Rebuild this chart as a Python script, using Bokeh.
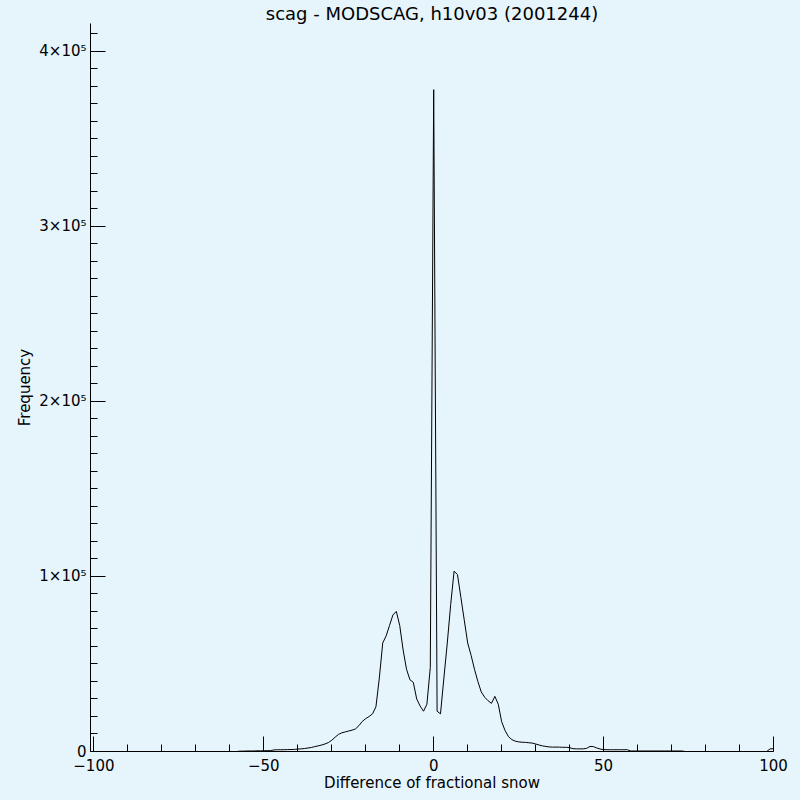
from bokeh.plotting import figure
from bokeh.models import Range1d, FixedTicker, CustomJSTickFormatter
from bokeh.embed import file_html
from bokeh.resources import INLINE

# ---- data -------------------------------------------------------------
diff_bins = list(range(-101, 101))          # difference of fractional snow (%)
frequency = [
    0, 0, 0, 0, 0, 0, 0, 0, 0, 0,                                               # -101..-92
    0, 0, 0, 0, 0, 0, 0, 0, 0, 0,                                               # -91..-82
    0, 0, 0, 0, 0, 0, 0, 0, 0, 0,                                               # -81..-72
    0, 0, 0, 0, 0, 0, 0, 0, 0, 0,                                               # -71..-62
    0, 0, 0, 0, 200, 200, 300, 300, 300, 400,                                   # -61..-52
    400, 400, 500, 500, 900, 1000, 1000, 1000, 1100, 1100,                      # -51..-42
    1200, 1400, 1500, 1700, 2000, 2300, 2800, 3200, 3700, 4300,                 # -41..-32
    5100, 6400, 8200, 9800, 10700, 11200, 11700, 12200, 12900, 14800,           # -31..-22
    17200, 18800, 20000, 21500, 25500, 42000, 62000, 66000, 72000, 78000,       # -21..-12
    80000, 72000, 58000, 47000, 41000, 39500, 30000, 26000, 23000, 27000,       # -11..-2
    48000, 378000, 23000, 21500, 42000, 62000, 84000, 103000, 101000, 88000,    # -1..8
    75000, 62000, 55000, 47000, 40000, 34000, 31000, 29000, 27500, 31500,       # 9..18
    27000, 17000, 12000, 8500, 6800, 5900, 5500, 5300, 5200, 5000,              # 19..28
    4800, 4300, 3700, 3200, 2900, 2600, 2500, 2500, 2500, 2400,                 # 29..38
    2400, 2200, 1600, 1500, 1500, 1500, 1800, 2900, 2800, 2000,                 # 39..48
    1400, 1100, 1000, 1000, 1000, 1000, 1000, 1000, 1000, 300,                  # 49..58
    300, 300, 300, 300, 300, 300, 300, 300, 300, 300,                           # 59..68
    300, 300, 300, 300, 300, 0, 0, 0, 0, 0,                                     # 69..78
    0, 0, 0, 0, 0, 0, 0, 0, 0, 0,                                               # 79..88
    0, 0, 0, 0, 0, 0, 0, 0, 0, 0,                                               # 89..98
    1500, 1600,                                                                 # 99..100
]

x_major_ticks = [-100, -50, 0, 50, 100]
x_minor_ticks = list(range(-100, 101, 10))
y_major_ticks = [0, 100000, 200000, 300000, 400000]
y_minor_ticks = list(range(0, 420000, 10000))

title_text = "scag - MODSCAG, h10v03 (2001244)"
x_label = "Difference of fractional snow"
y_label = "Frequency"

# ---- figure -----------------------------------------------------------
BG = "#e6f4fc"
FONT = "DejaVu Sans"

y_max = max(frequency) * 1.1

p = figure(
    width=800, height=800,
    x_range=Range1d(-101, 100), y_range=Range1d(0, y_max),
    output_backend="svg", toolbar_location=None,
    min_border_left=90, min_border_right=27, min_border_bottom=49, min_border_top=23,
)
p.background_fill_color = BG
p.border_fill_color = BG
p.outline_line_color = None
p.xgrid.visible = False
p.ygrid.visible = False

p.title.text = title_text
p.title.align = "center"
p.title.text_font = FONT
p.title.text_font_size = "18px"
p.title.text_font_style = "normal"
p.title.text_color = "black"
p.title.standoff = 0
p.title.offset = 0

p.line(diff_bins, frequency, line_color="black", line_width=1)

for ax in (p.xaxis[0], p.yaxis[0]):
    ax.axis_line_color = "black"
    ax.axis_line_width = 1
    ax.major_tick_line_color = "black"
    ax.minor_tick_line_color = "black"
    ax.major_tick_in = 15
    ax.major_tick_out = 0
    ax.minor_tick_in = 7
    ax.minor_tick_out = 0
    ax.major_label_text_font = FONT
    ax.major_label_text_font_size = "15px"
    ax.major_label_text_color = "black"
    ax.axis_label_text_font = FONT
    ax.axis_label_text_font_size = "15px"
    ax.axis_label_text_font_style = "normal"
    ax.axis_label_text_color = "black"

p.xaxis.ticker = FixedTicker(ticks=x_major_ticks, minor_ticks=x_minor_ticks)
p.yaxis.ticker = FixedTicker(ticks=y_major_ticks, minor_ticks=y_minor_ticks)
p.xaxis.formatter = CustomJSTickFormatter(
    code='return tick < 0 ? "\\u2212" + Math.abs(tick) : String(tick);')
p.yaxis.formatter = CustomJSTickFormatter(
    code='return tick == 0 ? "0" : (tick / 1e5).toFixed(0) + "\\u00d710\\u2075";')

p.xaxis.axis_label = x_label
p.yaxis.axis_label = y_label
p.xaxis.major_label_standoff = 7
p.xaxis.axis_label_standoff = 0
p.yaxis.major_label_standoff = 4
p.yaxis.axis_label_standoff = 2

html = file_html(p, INLINE)
html = html.replace("<head>", "<head><style>html,body{background:%s;}</style>" % BG, 1)
open("out.html", "w").write(html)
